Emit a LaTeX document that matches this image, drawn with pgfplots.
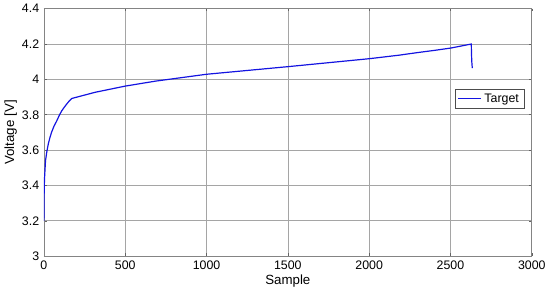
\documentclass[border=0pt]{standalone}
\usepackage{pgfplots}
\pgfplotsset{compat=1.18}
\usepackage{fontspec}
\setmainfont{Liberation Sans}
\definecolor{trace}{RGB}{20,20,225}
\definecolor{gridgray}{RGB}{165,165,165}
\begin{document}
\begin{tikzpicture}
\begin{axis}[
  scale only axis,
  width=366.75pt, height=186pt,
  xmin=0, xmax=3000, ymin=3, ymax=4.4,
  xtick={0,500,...,3000},
  ytick={3,3.2,...,4.4},
  yticklabels={3,3.2,3.4,3.6,3.8,4,4.2,4.4},
  grid=major,
  major grid style={gridgray, line width=0.5pt},
  axis line style={gridgray!80!black, line width=0.5pt},
  tick style={gridgray!60!black, line width=0.4pt},
  tick align=inside,
  major tick length=2pt,
  ticklabel style={font=\fontsize{9.3}{11}\selectfont},
  label style={font=\fontsize{10}{12}\selectfont},
  /pgf/number format/assume math mode=true,
  /pgf/number format/set thousands separator={},
  scaled x ticks=false,
  xlabel={Sample},
  ylabel={Voltage [V]},
  xlabel style={yshift=3pt},
  ylabel style={yshift=-3pt},
  legend style={at={(0.8425,0.674)}, anchor=north west,
    draw=black!70, line width=0.4pt,
    font=\fontsize{9.3}{11}\selectfont,
    inner xsep=2pt, inner ysep=1pt},
  legend cell align=left,
]
\addplot[trace, line width=0.9pt] coordinates {
(0,3.2) (1,3.3) (2,3.38) (4,3.44) (10,3.54) (18,3.59) (27,3.634) (37,3.67)
(47,3.70) (62,3.735) (78,3.763) (94,3.795) (109,3.821) (125,3.842)
(140,3.86) (155,3.877) (171,3.892) (200,3.899) (315,3.927) (500,3.962)
(685,3.99) (1000,4.029) (1500,4.072) (2000,4.117) (2184,4.137)
(2300,4.152) (2400,4.164) (2500,4.177) (2628,4.2) (2629,4.15)
(2631,4.1) (2634,4.064)
};
\addlegendentry{Target}
\end{axis}
\end{tikzpicture}
\end{document}
